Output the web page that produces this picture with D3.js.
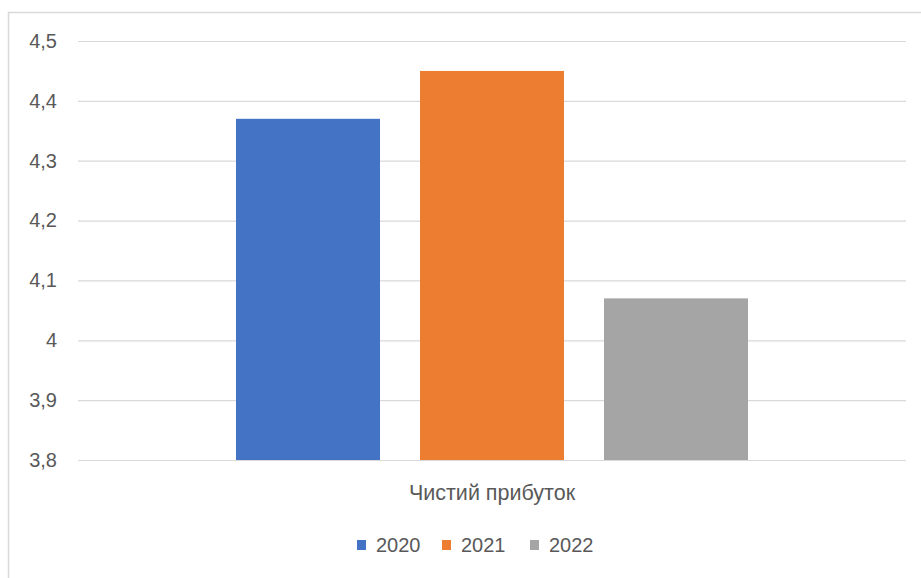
<!DOCTYPE html>
<html>
<head>
<meta charset="utf-8">
<script src="https://cdn.jsdelivr.net/npm/d3@7"></script>
<style>
  html, body { margin: 0; padding: 0; background: #fff; }
  svg { display: block; font-family: "Liberation Sans", Arial, sans-serif; }
</style>
</head>
<body>
<svg id="chart" width="921" height="578"></svg>
<script>
// Chart data
const categories = ["Чистий прибуток"];
const seriesNames = ["2020", "2021", "2022"];
const seriesValues = [4.37, 4.45, 4.07];
const seriesColors = ["#4472C4", "#ED7D31", "#A5A5A5"];
const yTicks = [3.8, 3.9, 4.0, 4.1, 4.2, 4.3, 4.4, 4.5];

const svg = d3.select("#chart");
const textColor = "#595959";
const gridColor = "#d9d9d9";

// Outer chart frame
svg.append("rect")
  .attr("x", 8.5).attr("y", 12.5)
  .attr("width", 940).attr("height", 620)
  .attr("fill", "#fff")
  .attr("stroke", gridColor)
  .attr("stroke-width", 1.5);

const plot = { left: 78, right: 906, top: 41, bottom: 460 };

const y = d3.scaleLinear().domain([3.8, 4.5]).range([plot.bottom, plot.top]);

const x0 = d3.scaleBand()
  .domain(categories)
  .range([plot.left, plot.right])
  .paddingInner(0)
  .paddingOuter(0.3086);

const x1 = d3.scaleBand()
  .domain(seriesNames)
  .range([0, x0.bandwidth()])
  .paddingInner(0.2174)
  .paddingOuter(0);

// Gridlines and value labels
const yAxis = d3.axisLeft(y)
  .tickValues(yTicks)
  .tickSize(-(plot.right - plot.left))
  .tickPadding(21)
  .tickFormat(d => d3.format(".1~f")(d).replace(".", ","));

const gy = svg.append("g")
  .attr("transform", `translate(${plot.left},0)`)
  .call(yAxis);
gy.select(".domain").remove();
gy.selectAll(".tick line").attr("stroke", gridColor).attr("stroke-width", 1.2);
gy.selectAll(".tick text")
  .attr("fill", textColor)
  .attr("font-size", 20)
  .attr("font-family", "Liberation Sans, Arial, sans-serif");

// Bars
const rows = seriesNames.map((name, i) => ({ name, value: seriesValues[i], color: seriesColors[i] }));
svg.append("g")
  .selectAll("rect")
  .data(rows)
  .join("rect")
  .attr("x", d => x0(categories[0]) + x1(d.name))
  .attr("y", d => y(d.value))
  .attr("width", x1.bandwidth())
  .attr("height", d => y(3.8) - y(d.value))
  .attr("fill", d => d.color);

// Category label
svg.append("text")
  .attr("x", x0(categories[0]) + x0.bandwidth() / 2)
  .attr("y", 500)
  .attr("text-anchor", "middle")
  .attr("fill", textColor)
  .attr("font-size", 21.5)
  .text(categories[0]);

// Legend
const legendX = [357, 442, 530];
const legend = svg.append("g");
rows.forEach((d, i) => {
  legend.append("rect")
    .attr("x", legendX[i]).attr("y", 540)
    .attr("width", 9).attr("height", 10)
    .attr("fill", d.color);
  legend.append("text")
    .attr("x", legendX[i] + 19).attr("y", 552)
    .attr("fill", textColor)
    .attr("font-size", 20)
    .text(d.name);
});
</script>
</body>
</html>
